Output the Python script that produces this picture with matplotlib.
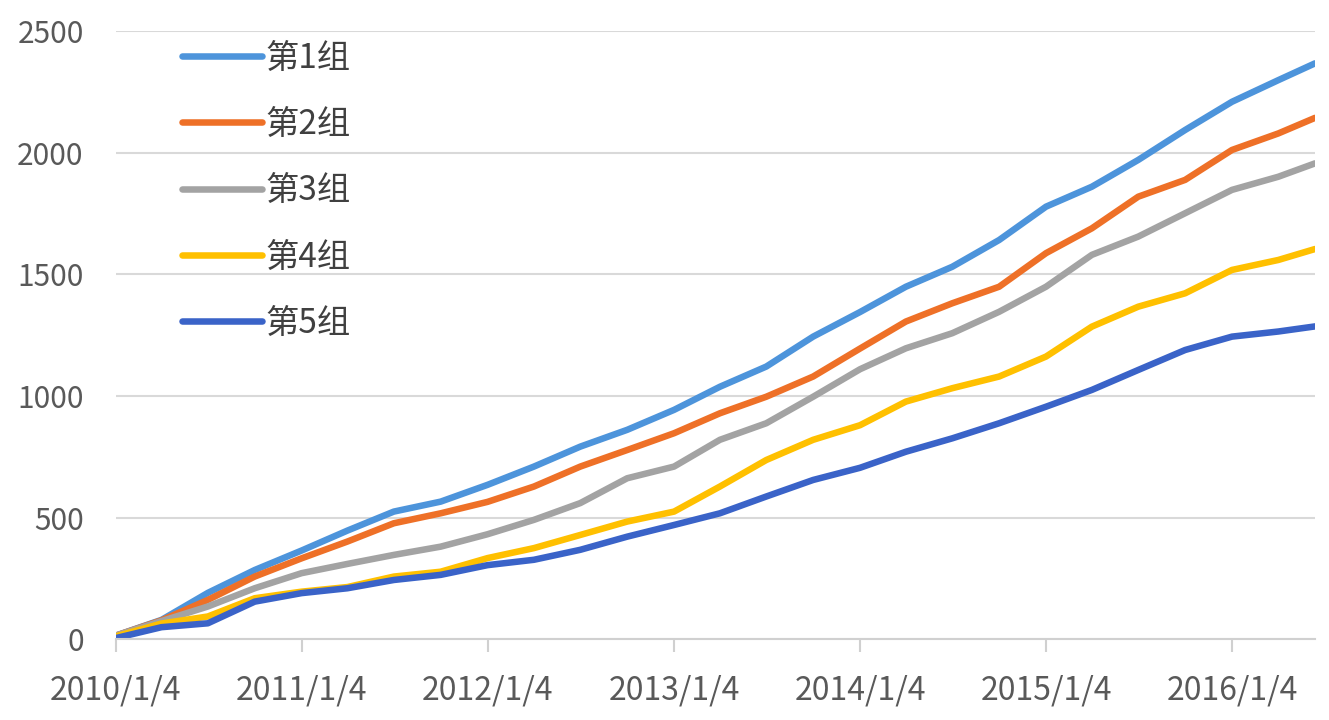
import matplotlib
matplotlib.use("Agg")
import matplotlib.pyplot as plt
import pandas as pd

plt.rcParams['font.family'] = ['Noto Sans CJK SC', 'DejaVu Sans']

dates = ["2010-01-04", "2010-04-04", "2010-07-04", "2010-10-04",
         "2011-01-04", "2011-04-04", "2011-07-04", "2011-10-04",
         "2012-01-04", "2012-04-04", "2012-07-04", "2012-10-04",
         "2013-01-04", "2013-04-04", "2013-07-04", "2013-10-04",
         "2014-01-04", "2014-04-04", "2014-07-04", "2014-10-04",
         "2015-01-04", "2015-04-04", "2015-07-04", "2015-10-04",
         "2016-01-04", "2016-04-04", "2016-06-15"]

group1 = [15, 80, 191, 285, 365, 447, 525, 566, 635, 710, 792, 861, 943, 1038,
          1121, 1244, 1345, 1449, 1531, 1641, 1778, 1860, 1970, 2093, 2209, 2298, 2367]
group2 = [15, 78, 162, 258, 333, 402, 477, 518, 565, 628, 710, 778, 847, 929,
          997, 1080, 1195, 1306, 1381, 1449, 1587, 1689, 1819, 1888, 2011, 2079, 2143]
group3 = [15, 75, 135, 210, 272, 310, 347, 381, 432, 491, 560, 662, 710, 820,
          888, 997, 1110, 1196, 1258, 1346, 1449, 1580, 1655, 1751, 1847, 1901, 1956]
group4 = [12, 65, 94, 169, 196, 215, 258, 278, 334, 375, 429, 484, 525, 628,
          737, 820, 880, 977, 1032, 1080, 1162, 1285, 1367, 1422, 1518, 1559, 1604]
group5 = [5, 50, 66, 155, 190, 210, 244, 265, 305, 327, 368, 422, 470, 518,
          587, 655, 705, 771, 826, 888, 956, 1025, 1107, 1189, 1244, 1265, 1286]

labels = ["第1组", "第2组", "第3组", "第4组", "第5组"]
colors = ["#4D94DB", "#EE7027", "#A3A3A3", "#FFC000", "#3A63C8"]
tick_dates = ["2010-01-04", "2011-01-04", "2012-01-04", "2013-01-04",
              "2014-01-04", "2015-01-04", "2016-01-04"]
tick_labels = ["2010/1/4", "2011/1/4", "2012/1/4", "2013/1/4",
               "2014/1/4", "2015/1/4", "2016/1/4"]
y_ticks = [0, 500, 1000, 1500, 2000, 2500]

x = pd.to_datetime(dates)
series = [group1, group2, group3, group4, group5]

fig = plt.figure(figsize=(13.29, 7.2), dpi=100)
ax = fig.add_axes([0.087, 0.112, 0.9025, 0.845])

for vals, lab, col in zip(series, labels, colors):
    ax.plot(x, vals, color=col, lw=4.7, label=lab, solid_capstyle='round',
            solid_joinstyle='round')

ax.set_xlim(pd.Timestamp("2010-01-04"), pd.Timestamp("2016-06-15"))
ax.set_ylim(0, 2500)
ax.set_yticks(y_ticks)
ax.set_yticklabels([str(v) for v in y_ticks])
ax.set_xticks(pd.to_datetime(tick_dates))
ax.set_xticklabels(tick_labels)

ax.grid(axis='y', color='#D9D9D9', lw=1.5)
ax.set_axisbelow(True)
for s in ['top', 'right', 'left']:
    ax.spines[s].set_visible(False)
ax.spines['bottom'].set_color('#D0D0D0')
ax.spines['bottom'].set_linewidth(1.5)

ax.tick_params(axis='y', length=0, pad=23, labelsize=21.5, labelcolor='#595959')
ax.tick_params(axis='x', length=9, width=1.5, color='#D0D0D0', pad=16,
               labelsize=23, labelcolor='#595959')

leg = ax.legend(loc='upper left', bbox_to_anchor=(0.044, 1.006), frameon=False,
                fontsize=24, handlelength=2.4, handletextpad=0.1,
                labelspacing=0.94, borderaxespad=0)
for t in leg.get_texts():
    t.set_color('#404040')

fig.savefig("out.png", dpi=100, facecolor='white')
